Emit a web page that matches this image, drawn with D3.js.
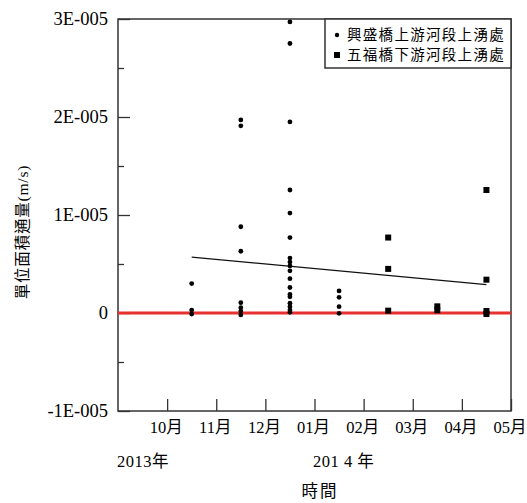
<!DOCTYPE html>
<html>
<head>
<meta charset="utf-8">
<script src="https://cdn.jsdelivr.net/npm/d3@7"></script>
<style>
  html, body { margin: 0; padding: 0; background: #fff; }
  svg text { font-family: "Liberation Serif", "Noto Sans CJK TC", serif; fill: #000; }
</style>
</head>
<body>
<svg id="chart" width="527" height="503"></svg>
<script>
// Month tick labels (ticks sit at index 0..7)
const monthLabels = ["10月", "11月", "12月", "01月", "02月", "03月", "04月", "05月"];
const yTickValues = [-1e-5, 0, 1e-5, 2e-5, 3e-5];
const yTickLabels = ["-1E-005", "0", "1E-005", "2E-005", "3E-005"];

// 興盛橋上游河段上湧處 — sample month position and flux (m/s)
const upstreamMonth = [
  0.5, 0.5, 0.5,
  1.5, 1.5, 1.5, 1.5, 1.5, 1.5, 1.5, 1.5,
  2.5, 2.5, 2.5, 2.5, 2.5, 2.5, 2.5, 2.5, 2.5, 2.5, 2.5, 2.5, 2.5, 2.5, 2.5, 2.5, 2.5, 2.5,
  3.5, 3.5, 3.5, 3.5
];
const upstreamFlux = [
  3.0e-6, 0.3e-6, -0.1e-6,
  19.7e-6, 19.1e-6, 8.8e-6, 6.3e-6, 1.05e-6, 0.54e-6, 0.2e-6, -0.2e-6,
  29.7e-6, 27.5e-6, 19.5e-6, 12.55e-6, 10.2e-6, 7.7e-6, 5.6e-6, 5.2e-6, 4.8e-6, 4.3e-6,
  3.5e-6, 2.6e-6, 1.9e-6, 1.65e-6, 1.0e-6, 0.65e-6, 0.3e-6, 0.07e-6,
  2.25e-6, 1.6e-6, 0.65e-6, -0.03e-6
];

// 五福橋下游河段上湧處
const downstreamMonth = [4.5, 4.5, 4.5, 5.5, 5.5, 6.5, 6.5, 6.5, 6.5];
const downstreamFlux = [7.7e-6, 4.5e-6, 0.24e-6, 0.68e-6, 0.28e-6, 12.55e-6, 3.4e-6, 0.2e-6, -0.1e-6];

// Trend line end points
const trendMonth = [0.5, 6.5];
const trendFlux = [5.7e-6, 2.9e-6];

const legendLabels = ["興盛橋上游河段上湧處", "五福橋下游河段上湧處"];

const FONT = '"Liberation Serif", "Noto Sans CJK TC", serif';
const svg = d3.select("#chart");
const plotL = 118, plotR = 511, plotT = 19, plotB = 411;

const x = d3.scaleLinear().domain([-1, 7]).range([plotL, plotR]);
const y = d3.scaleLinear().domain([-1e-5, 3e-5]).range([plotB, plotT]);

const axisColor = "#333";

// Y axis with inward ticks (major + minor)
const yAxis = d3.axisRight(y)
  .tickValues(d3.range(-1e-5, 3.01e-5, 0.5e-5))
  .tickSize(0)
  .tickFormat("");
const gy = svg.append("g").attr("transform", `translate(${plotL},0)`).call(yAxis);
gy.select(".domain").remove();
gy.selectAll(".tick line")
  .attr("x2", (d, i) => (i % 2 === 0 ? 12 : 6))
  .attr("stroke", axisColor).attr("stroke-width", 1.3);

svg.append("g").selectAll("text")
  .data(yTickValues)
  .join("text")
  .attr("x", plotL - 10)
  .attr("y", d => y(d))
  .attr("dy", "0.35em")
  .attr("text-anchor", "end")
  .attr("font-family", FONT)
  .attr("font-size", 18.5)
  .text((d, i) => yTickLabels[i]);

// X axis with inward ticks
const xAxis = d3.axisTop(x).tickValues(d3.range(0, 8)).tickSize(12).tickFormat("");
const gx = svg.append("g").attr("transform", `translate(0,${plotB})`).call(xAxis);
gx.select(".domain").remove();
gx.selectAll(".tick line").attr("stroke", axisColor).attr("stroke-width", 1.3);

svg.append("g").selectAll("text")
  .data(monthLabels)
  .join("text")
  .attr("x", (d, i) => x(i) - 1)
  .attr("y", 433)
  .attr("text-anchor", "middle")
  .attr("font-family", FONT)
  .attr("font-size", 16.5)
  .text(d => d);

// Frame
svg.append("rect")
  .attr("x", plotL).attr("y", plotT)
  .attr("width", plotR - plotL).attr("height", plotB - plotT)
  .attr("fill", "none").attr("stroke", axisColor).attr("stroke-width", 1.5);

// Zero reference line
svg.append("line")
  .attr("x1", plotL).attr("x2", plotR)
  .attr("y1", y(0)).attr("y2", y(0))
  .attr("stroke", "#e8302f").attr("stroke-width", 3);

// Trend line
svg.append("line")
  .attr("x1", x(trendMonth[0])).attr("y1", y(trendFlux[0]))
  .attr("x2", x(trendMonth[1])).attr("y2", y(trendFlux[1]))
  .attr("stroke", "#111").attr("stroke-width", 1.3);

// Points
svg.append("g").selectAll("circle")
  .data(upstreamFlux)
  .join("circle")
  .attr("cx", (d, i) => x(upstreamMonth[i]))
  .attr("cy", d => y(d))
  .attr("r", 2.4)
  .attr("fill", "#000");

const sq = 6;
svg.append("g").selectAll("rect")
  .data(downstreamFlux)
  .join("rect")
  .attr("x", (d, i) => x(downstreamMonth[i]) - sq / 2)
  .attr("y", d => y(d) - sq / 2)
  .attr("width", sq).attr("height", sq)
  .attr("fill", "#000");

// Legend
const lg = svg.append("g");
lg.append("rect")
  .attr("x", 325).attr("y", plotT)
  .attr("width", plotR - 325).attr("height", 49)
  .attr("fill", "#fff").attr("stroke", axisColor).attr("stroke-width", 1.5);
lg.append("circle").attr("cx", 337).attr("cy", 35).attr("r", 2.2).attr("fill", "#000");
lg.append("rect").attr("x", 334).attr("y", 52).attr("width", 6).attr("height", 6).attr("fill", "#000");
lg.selectAll("text")
  .data(legendLabels)
  .join("text")
  .attr("x", 347)
  .attr("y", (d, i) => 35 + i * 20)
  .attr("dy", "0.35em")
  .attr("font-family", FONT)
  .attr("font-size", 14.5)
  .attr("letter-spacing", 1.3)
  .text(d => d);

// Year labels and axis titles
svg.append("text").attr("x", 117).attr("y", 467)
  .attr("font-family", FONT).attr("font-size", 16.5).attr("letter-spacing", 0.5).text("2013年");
svg.append("text").attr("x", 313).attr("y", 467)
  .attr("font-family", FONT).attr("font-size", 16.5).attr("letter-spacing", 0.5).text("201 4 年");
svg.append("text").attr("x", 320).attr("y", 497).attr("text-anchor", "middle")
  .attr("font-family", FONT).attr("font-size", 16.5).attr("letter-spacing", 2).text("時間");
svg.append("text")
  .attr("transform", "translate(28,232) rotate(-90)")
  .attr("text-anchor", "middle")
  .attr("font-family", FONT)
  .attr("font-size", 15.5)
  .attr("letter-spacing", 0.8)
  .text("單位面積通量(m/s)");
</script>
</body>
</html>
